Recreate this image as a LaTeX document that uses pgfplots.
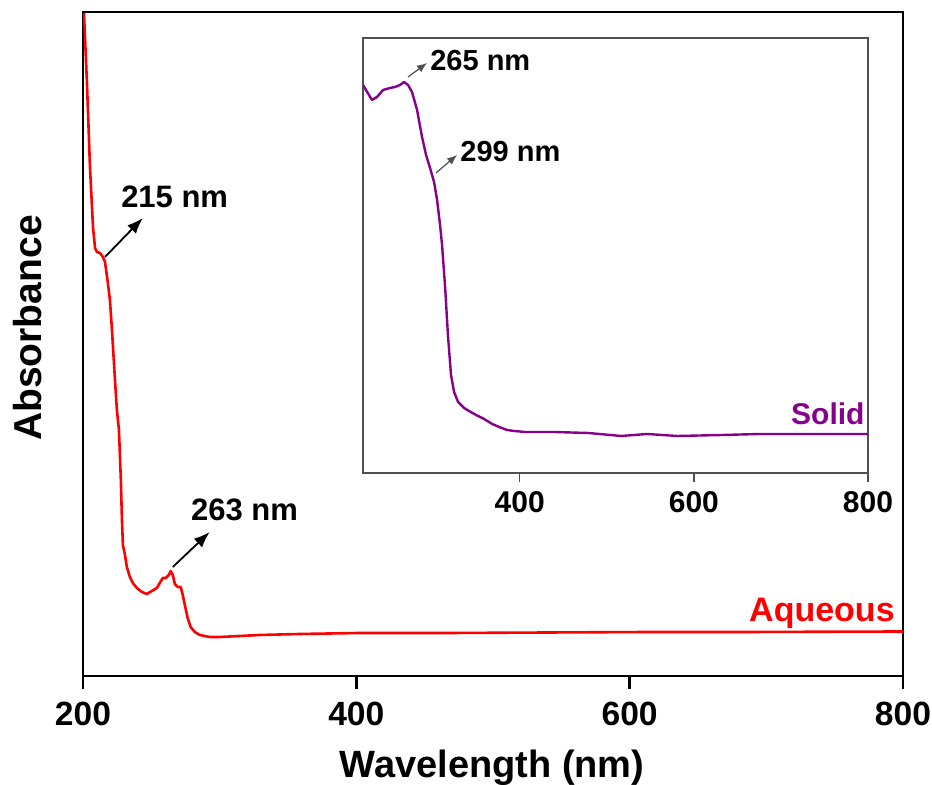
\documentclass[border=0pt]{standalone}
\usepackage{fontspec}
\setmainfont{Liberation Sans}
\usepackage{pgfplots}
\pgfplotsset{compat=1.18}
\usetikzlibrary{arrows.meta}
\definecolor{aqred}{RGB}{255,0,0}
\definecolor{solpurple}{RGB}{134,0,140}
\definecolor{insetframe}{RGB}{80,80,80}
\begin{document}
\begin{tikzpicture}
\begin{axis}[
  name=main,
  at={(0pt,0pt)}, anchor=south west,
  scale only axis, width=410pt, height=332pt,
  xmin=200, xmax=800, ymin=0, ymax=664,
  xtick={200,400,600,800}, ytick=\empty,
  xtick pos=bottom, tick align=outside,
  major tick length=6.5pt,
  axis line style={line width=1.2pt, black},
  every tick/.style={line width=1.2pt, black},
  /pgf/number format/assume math mode=true,
  xticklabel style={font=\bfseries\fontsize{16.8}{18}\selectfont, anchor=base, yshift=-18.5pt},
  clip=true,
]
\addplot[aqred, line width=1.3pt, line join=round] coordinates {
(200.7,663) (202.9,593) (205.1,509) (207.3,449) (208.8,428) (210.2,424) (212.4,423)
(214.6,419) (216.1,414) (218.2,393) (219.7,376) (221.2,346) (223.4,296) (224.8,266)
(226.3,246) (227.7,196) (228.5,156) (229.2,131) (230.7,121) (232.1,109) (234.3,99)
(236.5,93) (239.4,88) (243.1,84) (246.7,82) (250.4,85) (254.0,88) (256.2,93)
(258.4,98) (260.6,98) (262.8,101) (264.2,105) (265.7,101) (267.2,92) (269.3,89)
(271.5,89) (273.0,81) (274.5,71) (276.6,58) (278.8,49) (281.8,44) (285.4,41)
(292.7,39) (300,39) (314.6,40) (329.2,41) (358.4,42) (402.2,43) (467.9,43)
(540.9,43.5) (613.9,44) (686.9,44) (750,44.3) (800,44.5)
};
\draw[line width=0.9pt, -{Latex[length=8pt,width=6pt]}] (axis cs:216.1,419) -- (axis cs:243.8,458);
\draw[line width=0.9pt, -{Latex[length=8pt,width=6pt]}] (axis cs:265.7,109) -- (axis cs:292.7,144);
\node[anchor=west, inner sep=0pt, font=\bfseries\fontsize{15.5}{17}\selectfont] at (axis cs:227.7,479) {215 nm};
\node[anchor=west, inner sep=0pt, font=\bfseries\fontsize{15.5}{17}\selectfont] at (axis cs:278.8,166) {263 nm};
\node[anchor=base east, inner sep=0pt, text=aqred, font=\bfseries\fontsize{17}{19}\selectfont] at (axis cs:794.2,54) {Aqueous};
\end{axis}

\begin{axis}[
  name=inset,
  at={(140pt,101.5pt)}, anchor=south west,
  scale only axis, width=252.5pt, height=217.5pt,
  xmin=220, xmax=800, ymin=0, ymax=435,
  xtick={400,600,800}, ytick=\empty,
  xtick pos=bottom, tick align=outside,
  major tick length=4.5pt,
  axis line style={line width=0.7pt, insetframe},
  every tick/.style={line width=0.7pt, insetframe},
  /pgf/number format/assume math mode=true,
  xticklabel style={font=\bfseries\fontsize{15}{17}\selectfont, anchor=base, yshift=-15.5pt},
]
\addplot[solpurple, line width=1.2pt, line join=round] coordinates {
(220,388) (230.3,373) (236.1,376) (243,383) (251,385) (256.8,386) (262.5,388)
(267.1,391) (271.7,388) (276.3,381) (282.1,363) (287.8,336) (292.4,318) (297,305)
(301.6,291) (305.1,273) (308.5,248) (310.8,228) (314.3,186) (317.7,136) (321.1,98)
(324.6,81) (329.2,71) (336.1,65) (341.8,62) (349.9,58) (359.1,54) (368.3,49)
(376.3,46) (385.5,43) (393.6,42) (406.2,41) (439.5,41) (478.6,40) (516.6,37)
(546.4,39) (580.9,37) (632.6,38) (675.2,39) (722.3,39) (800,39)
};
\draw[line width=0.6pt, insetframe, -{Latex[length=5pt,width=4pt]}] (axis cs:271.7,396) -- (axis cs:293.5,410);
\draw[line width=0.6pt, insetframe, -{Latex[length=5pt,width=4pt]}] (axis cs:303.8,300) -- (axis cs:328,318);
\node[anchor=west, inner sep=0pt, font=\bfseries\fontsize{14.5}{16}\selectfont] at (axis cs:296.9,412) {265 nm};
\node[anchor=west, inner sep=0pt, font=\bfseries\fontsize{14.5}{16}\selectfont] at (axis cs:331.4,321) {299 nm};
\node[anchor=base east, inner sep=0pt, text=solpurple, font=\bfseries\fontsize{15}{17}\selectfont] at (axis cs:796.5,48) {Solid};
\end{axis}

\node[anchor=base, inner sep=0pt, font=\bfseries\fontsize{19}{21}\selectfont] at (204.5pt,-51pt) {Wavelength (nm)};
\node[rotate=90, anchor=base, inner sep=0pt, font=\bfseries\fontsize{19.5}{21}\selectfont] at (-20.5pt,174pt) {Absorbance};

\pgfresetboundingbox
\path[use as bounding box] (-41.5pt,-54.5pt) rectangle (424.5pt,338pt);
\end{tikzpicture}
\end{document}
